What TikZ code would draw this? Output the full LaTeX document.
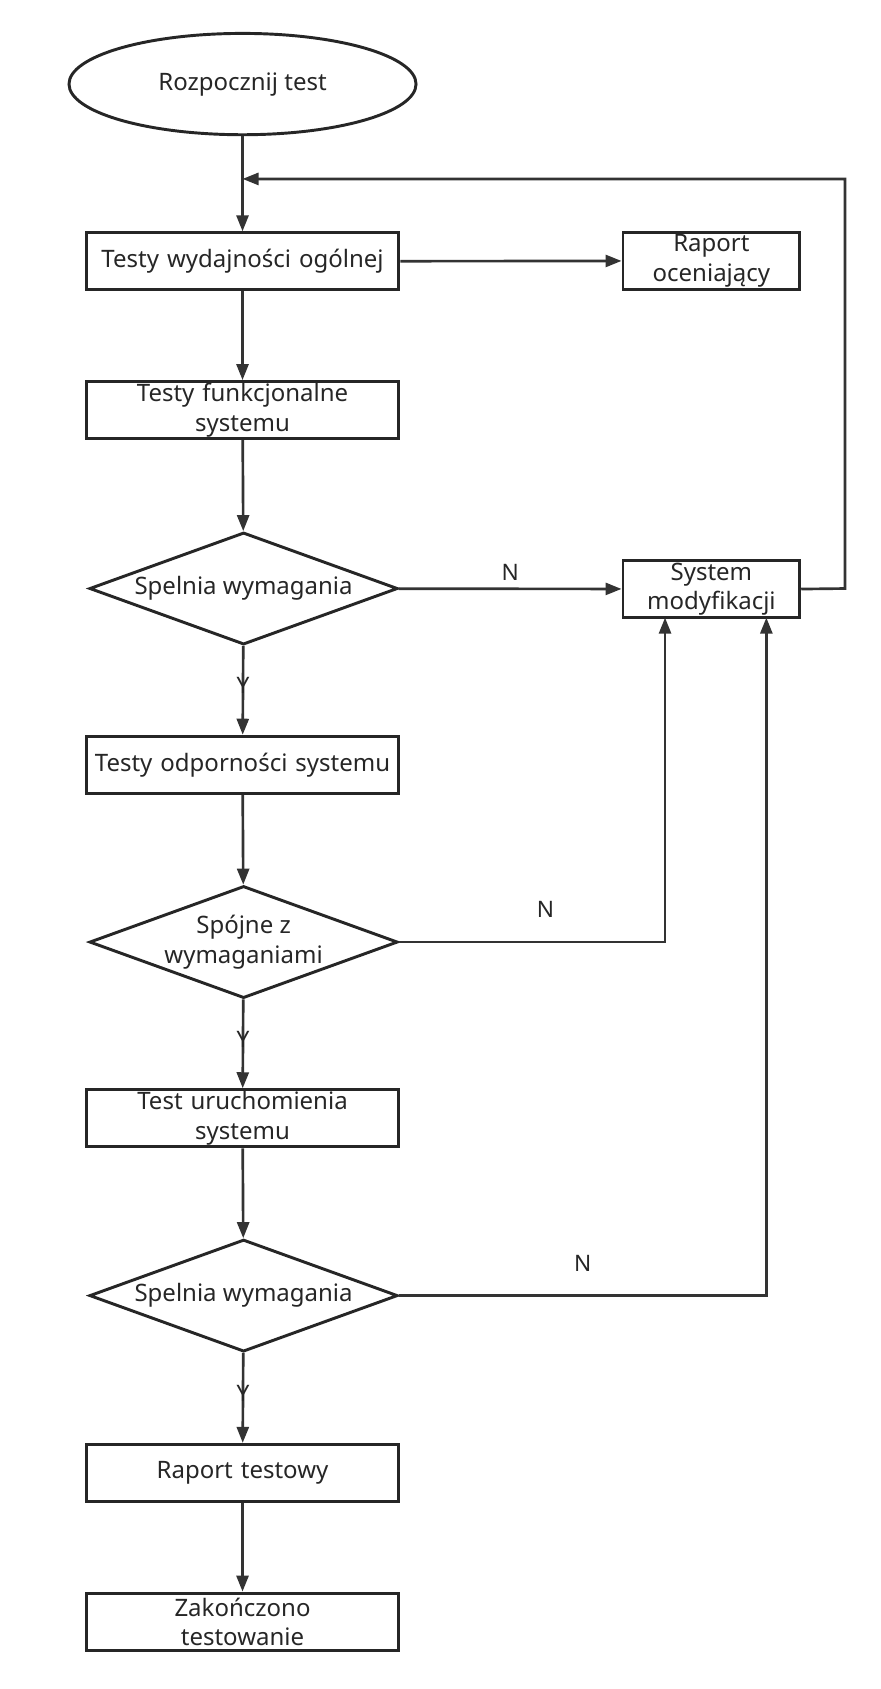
\documentclass[tikz,border=0pt]{standalone}
\usepackage{fontspec}
\setmainfont{Noto Sans}
\usetikzlibrary{shapes.geometric,arrows.meta}
\begin{document}
\begin{tikzpicture}[x=0.8085pt,y=-0.8085pt,
  every node/.style={font=\fontsize{18}{22}\selectfont, text=black!85},
  box/.style={draw=black!85,line width=2.2pt,minimum width=280*0.8085pt,minimum height=53*0.8085pt,inner sep=0pt,align=center,text width=290*0.8085pt},
  sbox/.style={box,minimum width=164*0.8085pt,text width=160*0.8085pt},
  dia/.style={draw=black!85,line width=2.2pt,diamond,aspect=2.75,minimum width=286*0.8085pt,minimum height=104*0.8085pt,inner sep=0pt,align=center},
  arr/.style={draw=black!80,line width=2pt,-{Triangle[length=12pt,width=9pt]}},
  lab/.style={font=\fontsize{17}{20}\selectfont}]
\useasboundingbox (0,0) rectangle (817,1567);
\node[draw=black!85,line width=2.2pt,ellipse,minimum width=322*0.8085pt,minimum height=94*0.8085pt] (start) at (225,78) {Rozpocznij test};
\node[box] (b1) at (225,242.5) {Testy wydajności ogólnej};
\node[sbox] (rap) at (660,242) {Raport\\oceniający};
\node[box] (b2) at (225,380.5) {Testy funkcjonalne\\systemu};
\node[dia] (d1) at (226,546) {Spelnia wymagania};
\node[sbox] (sys) at (660,546.5) {System\\modyfikacji};
\node[box] (b3) at (225,709.5) {Testy odporności systemu};
\node[dia] (d2) at (226,874) {Spójne z\\wymaganiami};
\node[box] (b4) at (225,1037.5) {Test uruchomienia\\systemu};
\node[dia] (d3) at (226,1202) {Spelnia wymagania};
\node[box] (b5) at (225,1366.5) {Raport testowy};
\node[box] (b6) at (225,1504.5) {Zakończono\\testowanie};
\coordinate (j) at (225,166);
\coordinate (fr) at (784,546);
\coordinate (fc) at (784,166);
\draw[arr] (start) -- (b1);
\draw[arr] (b1) -- (rap);
\draw[arr] (b1) -- (b2);
\draw[arr] (b2) -- (d1);
\draw[arr] (d1) -- node[lab,above,pos=0.5,yshift=2pt]{N} (sys);
\draw[arr] (d1) -- node[lab,pos=0.45]{Y} (b3);
\draw[arr] (b3) -- (d2);
\draw[arr] (d2) -- node[lab,pos=0.45]{Y} (b4);
\draw[arr] (b4) -- (d3);
\draw[arr] (d3) -- node[lab,pos=0.45]{Y} (b5);
\draw[arr] (b5) -- (b6);
\draw[arr] (sys.east) -- (fr) -- (fc) -- (j);
\draw[arr] (d2.east) -- node[lab,above,pos=0.55,yshift=14pt]{N} (617,874) -- (617,573);
\draw[arr] (d3.east) -- node[lab,above,pos=0.5,yshift=14pt]{N} (711,1202) -- (711,573);
\end{tikzpicture}
\end{document}
